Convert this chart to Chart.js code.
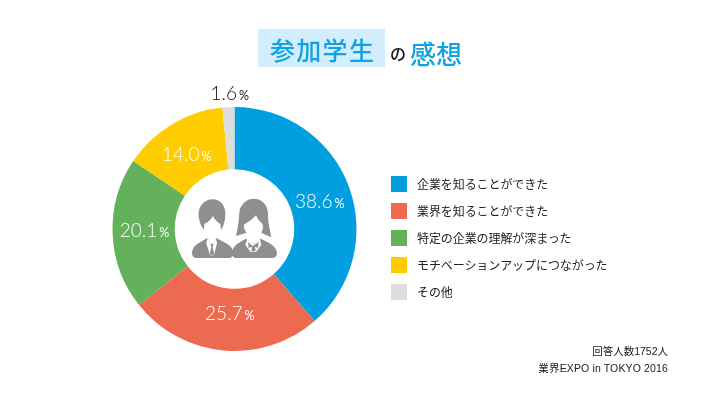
<!DOCTYPE html>
<html lang="ja"><head><meta charset="utf-8">
<script src="https://cdn.jsdelivr.net/npm/chart.js@4/dist/chart.umd.min.js"></script>
<style>
html,body{margin:0;padding:0;background:#fff;width:720px;height:415px;overflow:hidden;font-family:"Noto Sans CJK JP","Noto Sans",sans-serif}
#wrap{position:relative;width:720px;height:415px}
canvas{position:absolute;left:0;top:0}
.abs{position:absolute;white-space:nowrap}
#tbox{left:258px;top:29px;width:127px;height:38px;background:#D2EDFB}
.t{color:#0FA3E2;font-size:25px;font-weight:500;line-height:38px}
#legend{left:391px;top:0}
.li{position:absolute;left:0;white-space:nowrap;font-size:12px;letter-spacing:-0.08px;color:#222;line-height:16px}
.li i{position:absolute;left:0;top:0;width:16px;height:16px}
.li span{position:absolute;left:26px;top:0}
.note{font-family:"Liberation Sans","Noto Sans CJK JP",sans-serif;font-size:10.5px;color:#222;right:52px;line-height:14px}
</style></head><body>
<div id="wrap">
<canvas id="c" width="720" height="415"></canvas>
<div class="abs" id="tbox"></div>
<div class="abs t" style="left:270px;top:30px;letter-spacing:1.3px">参加学生</div>
<div class="abs" style="left:390px;top:38px;font-size:16px;font-weight:500;line-height:30px;color:#111">の</div>
<div class="abs t" style="left:410px;top:34px;font-size:26px;line-height:38px">感想</div>
<div class="abs" id="legend"></div>
<div class="abs note" style="top:344px">回答人数1752人</div>
<div class="abs note" style="top:361px;letter-spacing:.14px">業界EXPO in TOKYO 2016</div>
<svg class="abs" style="left:192px;top:196px" width="86" height="62" viewBox="0 0 258 186">
 <g fill="#8F8F8F">
  <path d="M20 62C16 30 38 10 62 10C86 10 102 30 100 60C99 78 94 92 87 102L85 84C76 78 68 72 63 60C56 72 46 80 37 84L36 102C28 92 22 78 20 62Z"/>
  <path d="M0 170C2 150 18 142 36 132L45 126L60 146L73 126L84 132C104 142 122 150 124 170C124 180 118 186 110 186H14C6 186 0 180 0 170Z"/>
  <path d="M46 128L60 144L72 128L75 142L66 178H54L43 142Z" fill="#fff"/>
  <path d="M55 143H65L62 152L67 176H53L58 152Z"/>
  <g transform="translate(120 0)">
   <path d="M12 120C18 95 20 80 22 50C24 25 44 8 65 8C90 8 108 26 108 55C108 85 114 100 118 124L88 110C94 100 94 90 90 82C82 76 76 68 72 58C62 70 46 80 36 86C34 94 38 102 44 110Z"/>
   <path d="M0 170C2 150 18 140 42 128L64 144L86 128C112 140 133 150 135 170C135 180 129 186 120 186H14C6 186 0 180 0 170Z"/>
   <path d="M46 130L64 145L84 130L88 146L72 168H56L40 146Z" fill="#fff"/>
   <path d="M48 138L62 150L80 138L78 156L69 152L71 166H58L60 152L50 156Z"/>
  </g>
 </g>
</svg>
</div>
<script>
const categories=["企業を知ることができた","業界を知ることができた","特定の企業の理解が深まった","モチベーションアップにつながった","その他"];
const values=[38.6,25.7,20.1,14.0,1.6];
const colors=["#00A0E0","#EC6A50","#63B15A","#FFCC00","#DDDDDD"];
const labelRadius=[90,84,90,89,136];
const labelDx=[1,3,0,-2,2];
const labelDy=[4,0,-3,1,0];
const labelColor=["#fff","#fff","#fff","#fff","#111"];

const percentLabels={id:"percentLabels",afterDatasetsDraw(chart){
  const ctx=chart.ctx,meta=chart.getDatasetMeta(0);
  ctx.save();ctx.textBaseline="alphabetic";
  meta.data.forEach((arc,i)=>{
    const mid=(arc.startAngle+arc.endAngle)/2;
    const x=arc.x+Math.cos(mid)*labelRadius[i]+labelDx[i],y=arc.y+Math.sin(mid)*labelRadius[i]+labelDy[i];
    const num=values[i].toFixed(1),pct="%",gap=2;
    const nf='300 19px Lato,"Open Sans",sans-serif',pf='400 12.5px Lato,"Open Sans",sans-serif';
    ctx.font=nf;const nw=ctx.measureText(num).width;
    ctx.font=pf;const pw=ctx.measureText(pct).width;
    const sx=x-(nw+gap+pw)/2;
    ctx.fillStyle=labelColor[i];
    ctx.textAlign="left";
    ctx.font=nf;ctx.fillText(num,sx,y+7);
    ctx.font=pf;ctx.fillText(pct,sx+nw+gap,y+7);
  });
  ctx.restore();
}};

new Chart(document.getElementById("c"),{
  type:"doughnut",
  data:{labels:categories,datasets:[{data:values,backgroundColor:colors,borderWidth:0}]},
  options:{
    responsive:false,animation:false,devicePixelRatio:1,
    cutout:"49%",rotation:0,
    layout:{padding:{left:112.5,right:363.5,top:107,bottom:64}},
    plugins:{legend:{display:false},tooltip:{enabled:false}}
  },
  plugins:[percentLabels]
});

const legend=document.getElementById("legend");
categories.forEach((name,i)=>{
  const row=document.createElement("div");
  row.className="li";
  row.style.top=(176+i*27)+"px";
  const sw=document.createElement("i");sw.style.background=colors[i];
  const tx=document.createElement("span");tx.textContent=name;
  row.append(sw,tx);legend.append(row);
});
</script>
</body></html>
